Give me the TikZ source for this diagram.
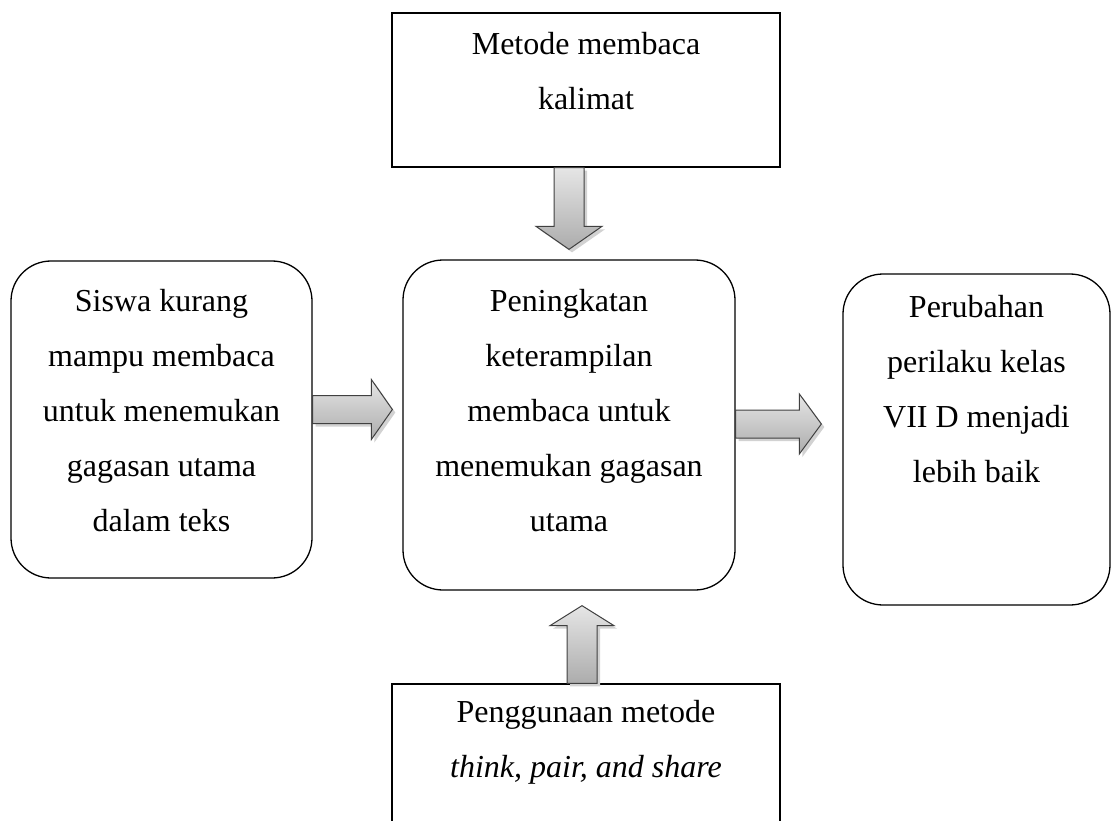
\documentclass[tikz,border=0pt]{standalone}
\usepackage{fontspec}
\setmainfont{Liberation Serif}
\usepackage{tikz}
\usetikzlibrary{calc,positioning,shadows}

\newcommand{\blokpanah}[5]{%
  \coordinate (pa) at (#1);
  \coordinate (pb) at (#2);
  \coordinate (ph) at ($(pb)!#5!(pa)$);
  \path[panah] ($(pa)!#3!90:(pb)$) -- ($(ph)!#3!90:(pb)$) -- ($(ph)!#4!90:(pb)$)
    -- (pb) -- ($(ph)!#4!-90:(pb)$) -- ($(ph)!#3!-90:(pb)$) -- ($(pa)!#3!-90:(pb)$) -- cycle;
}

\begin{document}
\begin{tikzpicture}[
    x=1pt, y=-1pt,
    kotak/.style={draw, line width=1.3pt, rectangle, inner sep=0pt},
    kotakbulat/.style={kotak, rounded corners=40pt},
    teks/.style={align=center, inner sep=0pt, font=\fontsize{32}{55}\selectfont},
    panah/.style={draw=gray!50!black, line width=1pt, top color=gray!20, bottom color=gray!65,
                  drop shadow={shadow xshift=3pt, shadow yshift=-3pt, fill=gray!35, opacity=1}}
]
\useasboundingbox (0,0) rectangle (1112,821);

\node[kotak, minimum width=388pt, minimum height=154pt] (metode) at (586,90) {};
\node[kotakbulat, minimum width=301pt, minimum height=317pt] (siswa) at (161.5,419.5) {};
\node[kotakbulat, minimum width=332pt, minimum height=330pt] (ningkat) at (569,425) {};
\node[kotakbulat, minimum width=267pt, minimum height=331pt] (ubah) at (976.5,439.5) {};
\node[kotak, minimum width=388pt, minimum height=180pt] (tps) at (586,774) {};

\node[teks, below=3.5pt of metode.north] (metode-t) {\strut Metode membaca\\kalimat};
\node[teks, below=12.5pt of siswa.north] (siswa-t) {\strut Siswa kurang\\mampu membaca\\untuk menemukan\\gagasan utama\\dalam teks};
\node[teks, below=13.5pt of ningkat.north] (ningkat-t) {\strut Peningkatan\\keterampilan\\membaca untuk\\menemukan gagasan\\utama};
\node[teks, below=5.5pt of ubah.north] (ubah-t) {\strut Perubahan\\perilaku kelas\\VII D menjadi\\lebih baik};
\node[teks, below=0pt of tps.north] (tps-t) {\strut Penggunaan metode\\\textit{think, pair, and share}};

\blokpanah{ningkat.north |- metode.south}{$(ningkat.north)+(0,-10)$}{15pt}{33pt}{23pt}
\blokpanah{$(siswa.east)+(0,-10)$}{$(ningkat.west |- siswa.east)+(-10,-10)$}{14pt}{30pt}{21pt}
\blokpanah{$(ningkat.east)+(0,-1)$}{$(ubah.west |- ningkat.east)+(-21,-1)$}{14pt}{30pt}{22pt}
\blokpanah{$(tps.north)+(-4,0)$}{$(tps.north |- ningkat.south)+(-4,15)$}{15pt}{32pt}{20pt}
\end{tikzpicture}
\end{document}
